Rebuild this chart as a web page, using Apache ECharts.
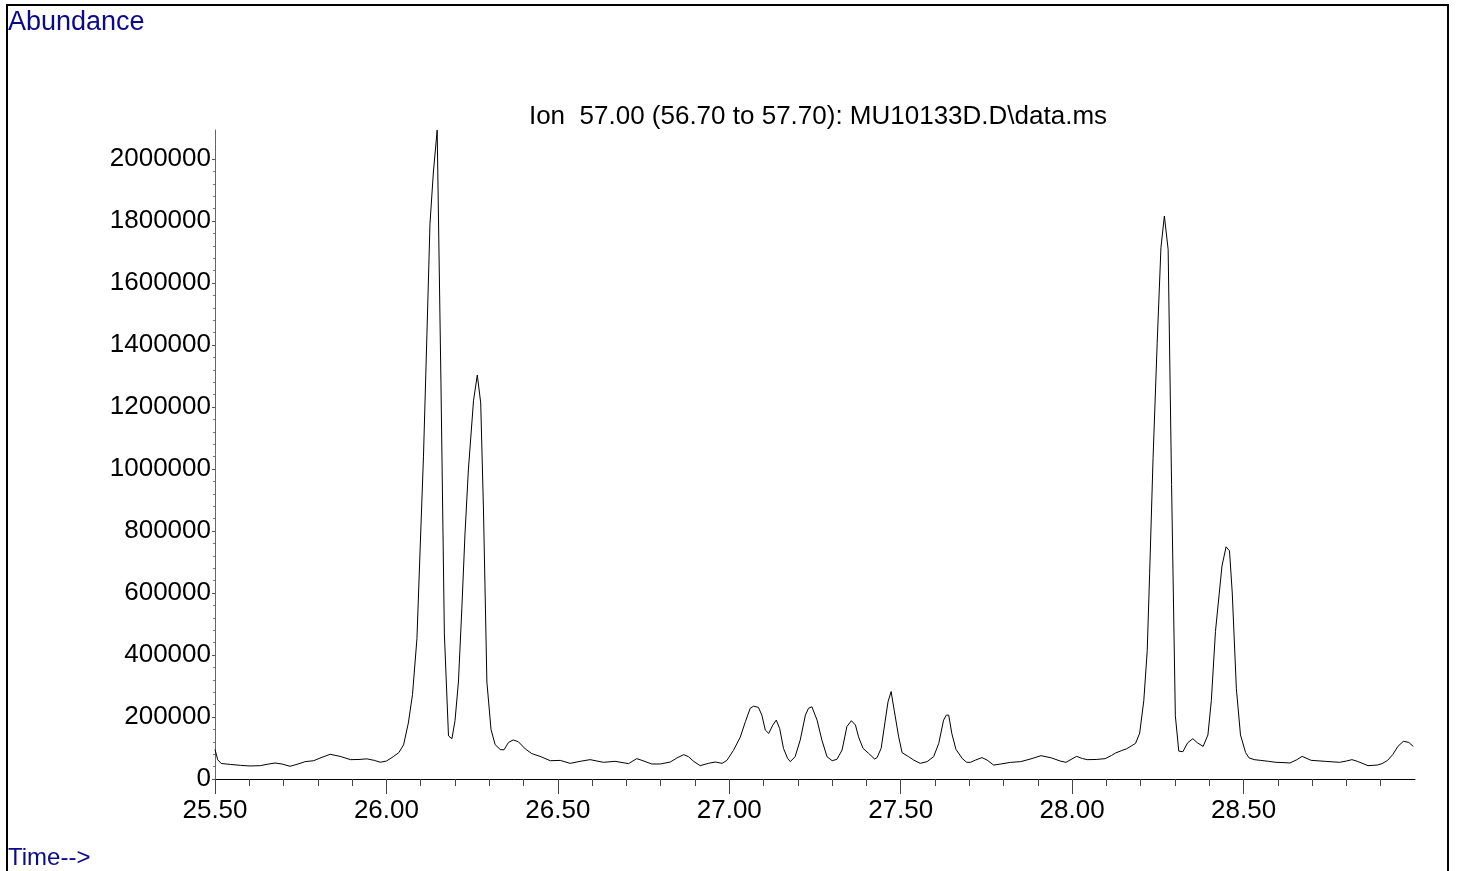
<!DOCTYPE html>
<html>
<head>
<meta charset="utf-8">
<script src="https://cdn.jsdelivr.net/npm/echarts@6/dist/echarts.min.js"></script>
<style>
html,body{margin:0;padding:0;background:#fff;}
#chart{width:1457px;height:871px;}
</style>
</head>
<body>
<div id="chart"></div>
<script>
// Retention time (min)
var times = [
 25.500,25.508,25.518,25.545,25.575,25.602,25.632,25.655,25.675,25.695,25.719,25.739,25.763,25.788,25.812,25.836,25.865,25.895,25.920,25.943,25.965,25.982,26.000,26.020,26.036,26.050,
 26.064,26.076,26.089,26.098,26.108,26.118,26.127,26.137,26.148,26.159,26.169,26.181,26.191,26.200,26.210,26.220,26.229,26.239,26.254,26.265,26.275,26.283,26.293,26.305,26.317,
 26.332,26.343,26.356,26.370,26.385,26.405,26.424,26.448,26.478,26.507,26.536,26.565,26.594,26.633,26.667,26.706,26.730,26.745,26.774,26.799,26.828,26.847,26.867,26.881,26.896,26.915,26.939,26.959,26.979,26.993,
 27.012,27.032,27.047,27.061,27.071,27.085,27.095,27.105,27.115,27.127,27.137,27.147,27.158,27.170,27.178,27.192,27.207,27.222,27.231,27.241,27.256,27.270,27.285,27.300,27.314,27.329,27.343,27.356,27.368,27.377,27.390,27.406,27.424,27.431,27.443,27.455,27.463,27.472,27.481,27.494,27.504,27.523,27.538,27.557,27.577,27.596,27.611,27.625,27.633,27.640,27.649,27.661,27.679,27.692,27.703,27.718,27.737,27.752,27.771,27.790,27.820,27.850,27.880,27.909,27.940,27.965,27.982,
 28.013,28.030,28.044,28.070,28.096,28.115,28.127,28.145,28.158,28.174,28.185,28.197,28.209,28.219,28.226,28.236,28.248,28.259,28.269,28.280,28.290,28.301,28.311,28.323,28.337,28.352,28.365,28.382,28.396,28.406,28.418,28.437,28.449,28.459,28.467,28.479,28.491,28.506,28.516,28.531,28.550,28.573,28.594,28.615,28.635,28.655,28.671,28.697,28.738,28.780,28.800,28.816,28.832,28.863,28.890,28.904,28.920,28.935,28.950,28.966,28.982,28.995
];
// Abundance of ion 57.00
var abundance = [
 95000,62000,50000,47000,44000,42000,43000,48000,51600,48400,41000,47300,55900,59100,70000,79600,73000,62400,63000,65000,60000,54000,58000,72000,85000,110000,
 181000,272000,453000,732000,1039000,1429000,1791000,1958000,2093000,1280000,468000,139000,130000,188000,313000,551000,787000,997000,1220000,1303000,1213000,871000,313000,160000,111000,
 95000,94000,118000,126000,120000,97000,82000,73000,59000,60000,50500,57000,62400,53800,57000,49500,65600,60200,48400,48400,54800,67700,78500,72000,57000,43000,50500,54800,50500,60000,
 92000,135000,185000,228000,235000,231000,206000,158000,147000,174000,190000,163000,99000,66700,56000,72000,126000,206000,228000,233000,190000,126000,72000,59000,63500,93500,169000,188000,174000,136000,99000,83000,64500,69000,99000,190000,249000,282000,222000,136000,85000,72000,61000,50500,56000,72000,115000,190000,206000,206000,147000,96000,66700,54000,53600,61000,69000,61000,45000,48000,53600,56000,65000,75300,68000,58000,53800,
 73000,66000,62400,63000,65600,76000,84000,92000,97000,107500,115000,148000,253000,414000,662000,1034000,1405000,1714000,1816000,1708000,950000,204000,90000,88000,117000,130000,117000,105000,142000,253000,476000,687000,749000,736000,600000,291000,142000,85000,68000,62400,60000,57000,53800,53000,51600,62000,73000,60200,57000,53800,58000,62400,57000,43000,45000,49500,60000,78500,105000,121500,118000,105000
];
var xMajorTicks = [25.5, 26.0, 26.5, 27.0, 27.5, 28.0, 28.5];
var xMinorTicks = [25.6,25.7,25.8,25.9,26.1,26.2,26.3,26.4,26.6,26.7,26.8,26.9,27.1,27.2,27.3,27.4,27.6,27.7,27.8,27.9,28.1,28.2,28.3,28.4,28.6,28.7,28.8,28.9];
var yMajorTicks = [0,200000,400000,600000,800000,1000000,1200000,1400000,1600000,1800000,2000000];
var yMinorTicks = [];
for (var i = 0; i < yMajorTicks.length - 1; i++) {
  for (var k = 1; k < 5; k++) yMinorTicks.push(yMajorTicks[i] + k * 40000);
}
var titleText = 'Ion  57.00 (56.70 to 57.70): MU10133D.D\\data.ms';

var seriesData = times.map(function (t, i) { return [t, abundance[i]]; });
var FONT = '"Liberation Sans", Arial, sans-serif';
var xMin = 25.5, xMax = 29.0, yMin = 0, yMax = 2093500;

var chart = echarts.init(document.getElementById('chart'), null, {renderer: 'canvas'});
chart.setOption({
  animation: false,
  backgroundColor: '#ffffff',
  grid: {left: 215, right: 42, top: 130, bottom: 92, containLabel: false},
  xAxis: [
    {
      type: 'value', min: xMin, max: xMax, position: 'bottom',
      axisLine: {show: true, onZero: false, lineStyle: {color: '#000', width: 1}},
      axisTick: {show: true, customValues: xMajorTicks, length: 15, lineStyle: {color: '#444', width: 1}},
      axisLabel: {customValues: xMajorTicks, formatter: function (v) { return v.toFixed(2); },
                  fontFamily: FONT, fontSize: 26, color: '#000', margin: 19},
      splitLine: {show: false}
    },
    {
      type: 'value', min: xMin, max: xMax, position: 'bottom',
      axisLine: {show: false},
      axisTick: {show: true, customValues: xMinorTicks, length: 7, lineStyle: {color: '#444', width: 1}},
      axisLabel: {show: false},
      splitLine: {show: false}
    }
  ],
  yAxis: [
    {
      type: 'value', min: yMin, max: yMax, position: 'left',
      axisLine: {show: true, onZero: false, lineStyle: {color: '#666', width: 1}},
      axisTick: {show: true, customValues: yMajorTicks, length: 3, lineStyle: {color: '#555', width: 1}},
      axisLabel: {customValues: yMajorTicks, formatter: function (v) { return String(v); },
                  fontFamily: FONT, fontSize: 26, color: '#000', margin: 4, padding: [4, 0, 0, 0]},
      splitLine: {show: false}
    },
    {
      type: 'value', min: yMin, max: yMax, position: 'left',
      axisLine: {show: false},
      axisTick: {show: true, customValues: yMinorTicks, length: 2, lineStyle: {color: '#777', width: 1}},
      axisLabel: {show: false},
      splitLine: {show: false}
    }
  ],
  series: [{
    type: 'line', xAxisIndex: 0, yAxisIndex: 0,
    data: seriesData, showSymbol: false, symbol: 'none',
    lineStyle: {color: '#000', width: 1}, smooth: false
  }],
  graphic: [
    {type: 'rect', shape: {x: 7, y: 5, width: 1441, height: 900}, style: {fill: 'none', stroke: '#000', lineWidth: 2}, silent: true},
    {type: 'text', x: 8, y: 23, style: {text: 'Abundance', font: '27px ' + FONT, fill: '#0a0a8c', textAlign: 'left', textVerticalAlign: 'middle'}},
    {type: 'text', x: 818, y: 117, style: {text: titleText, font: '26px ' + FONT, fill: '#000', textAlign: 'center', textVerticalAlign: 'middle'}},
    {type: 'text', x: 8, y: 858, style: {text: 'Time-->', font: '24px ' + FONT, fill: '#0a0a8c', textAlign: 'left', textVerticalAlign: 'middle'}}
  ]
});
</script>
</body>
</html>
